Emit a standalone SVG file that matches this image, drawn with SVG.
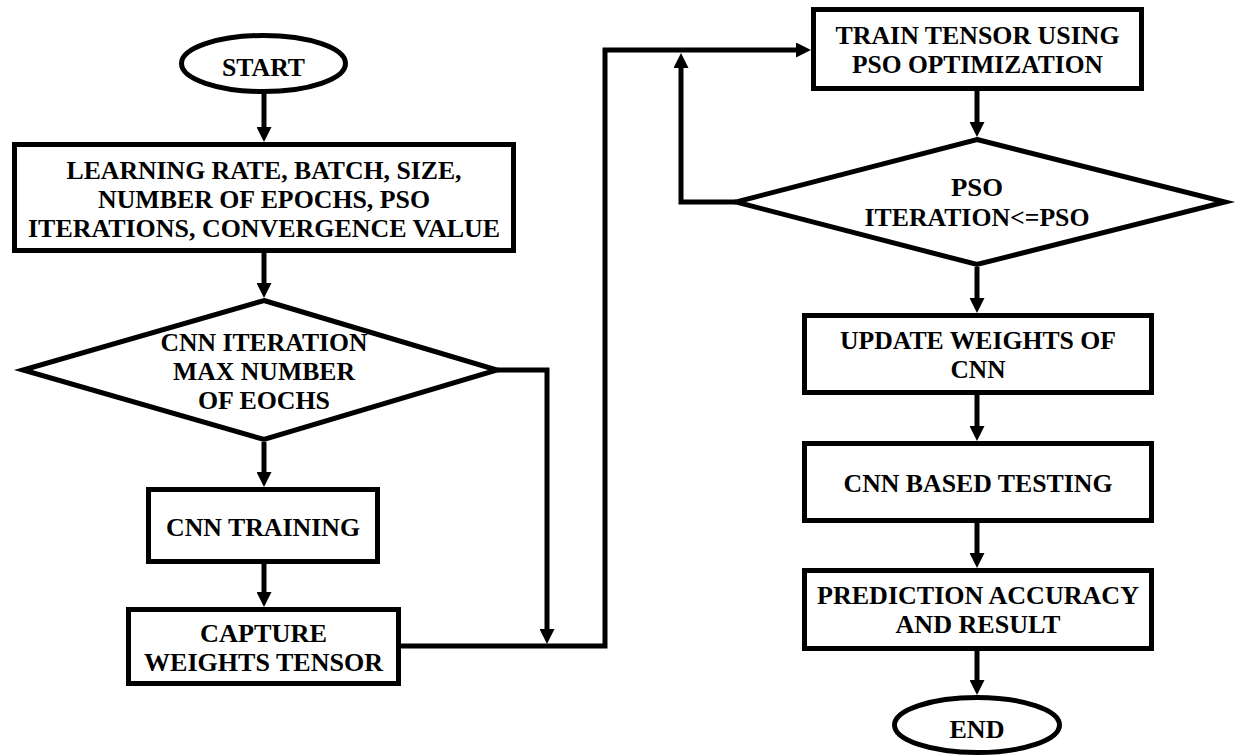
<svg xmlns="http://www.w3.org/2000/svg" width="1236" height="756" viewBox="0 0 1236 756">
<style>
.s{fill:#fff;stroke:#000;stroke-width:5;stroke-linejoin:miter;stroke-miterlimit:10}
.c{fill:none;stroke:#000;stroke-width:5;stroke-linejoin:miter}
.t{font-family:"Liberation Serif","Times New Roman",serif;font-weight:bold;font-size:26px;fill:#000;text-anchor:middle}
</style>
<defs>
<marker id="ah" markerUnits="userSpaceOnUse" markerWidth="15" markerHeight="15" viewBox="0 0 15 15" refX="5" refY="7.5" orient="auto">
<path d="M0,0 L15,7.5 L0,15 z" fill="#000"/>
</marker>
</defs>
<rect width="1236" height="756" fill="#fff"/>
<g id="connectors">
<path class="c" d="M264,94 V132" marker-end="url(#ah)"/>
<path class="c" d="M264,253 V288" marker-end="url(#ah)"/>
<path class="c" d="M264,442 V477" marker-end="url(#ah)"/>
<path class="c" d="M264,564 V597" marker-end="url(#ah)"/>
<path class="c" d="M497,370 H547 V634" marker-end="url(#ah)"/>
<path class="c" d="M401,646 H605 V50 H801" marker-end="url(#ah)"/>
<path class="c" d="M736,202 H681 V63" marker-end="url(#ah)"/>
<path class="c" d="M977,91 V127" marker-end="url(#ah)"/>
<path class="c" d="M977,267 V303" marker-end="url(#ah)"/>
<path class="c" d="M977,395 V431" marker-end="url(#ah)"/>
<path class="c" d="M977,523 V558" marker-end="url(#ah)"/>
<path class="c" d="M977,651 V685" marker-end="url(#ah)"/>
</g>
<g id="start">
<ellipse class="s" cx="263.5" cy="63.5" rx="82" ry="28"/>
<text class="t" x="263.5" y="76" textLength="83" lengthAdjust="spacingAndGlyphs">START</text>
</g>
<g id="params">
<rect class="s" x="14.5" y="144.5" width="499" height="106"/>
<text class="t" x="264" y="179" textLength="395" lengthAdjust="spacingAndGlyphs">LEARNING RATE, BATCH, SIZE,</text>
<text class="t" x="264" y="208" textLength="332" lengthAdjust="spacingAndGlyphs">NUMBER OF EPOCHS, PSO</text>
<text class="t" x="264" y="237" textLength="472" lengthAdjust="spacingAndGlyphs">ITERATIONS, CONVERGENCE VALUE</text>
</g>
<g id="cnn-decision">
<polygon class="s" points="264,300.5 497,370 264,439.5 23,370"/>
<text class="t" x="264" y="351" textLength="207" lengthAdjust="spacingAndGlyphs">CNN ITERATION</text>
<text class="t" x="264" y="380" textLength="182" lengthAdjust="spacingAndGlyphs">MAX NUMBER</text>
<text class="t" x="264" y="409" textLength="132" lengthAdjust="spacingAndGlyphs">OF EOCHS</text>
</g>
<g id="cnn-training">
<rect class="s" x="148.5" y="489.5" width="229" height="72"/>
<text class="t" x="263" y="536" textLength="194" lengthAdjust="spacingAndGlyphs">CNN TRAINING</text>
</g>
<g id="capture">
<rect class="s" x="128.5" y="609.5" width="270" height="74"/>
<text class="t" x="263.5" y="642" textLength="127" lengthAdjust="spacingAndGlyphs">CAPTURE</text>
<text class="t" x="263.5" y="671" textLength="239" lengthAdjust="spacingAndGlyphs">WEIGHTS TENSOR</text>
</g>
<g id="train-pso">
<rect class="s" x="813.5" y="9.5" width="328" height="79"/>
<text class="t" x="977.5" y="44" textLength="284" lengthAdjust="spacingAndGlyphs">TRAIN TENSOR USING</text>
<text class="t" x="977.5" y="73" textLength="251" lengthAdjust="spacingAndGlyphs">PSO OPTIMIZATION</text>
</g>
<g id="pso-decision">
<polygon class="s" points="977,139.5 1225,202 977,264.5 736,202"/>
<text class="t" x="977" y="196" textLength="52" lengthAdjust="spacingAndGlyphs">PSO</text>
<text class="t" x="977" y="226" textLength="225" lengthAdjust="spacingAndGlyphs">ITERATION&lt;=PSO</text>
</g>
<g id="update">
<rect class="s" x="804.5" y="315.5" width="347" height="77"/>
<text class="t" x="978" y="349" textLength="276" lengthAdjust="spacingAndGlyphs">UPDATE WEIGHTS OF</text>
<text class="t" x="978" y="378" textLength="55" lengthAdjust="spacingAndGlyphs">CNN</text>
</g>
<g id="testing">
<rect class="s" x="804.5" y="443.5" width="347" height="77"/>
<text class="t" x="978" y="492" textLength="269" lengthAdjust="spacingAndGlyphs">CNN BASED TESTING</text>
</g>
<g id="prediction">
<rect class="s" x="804.5" y="570.5" width="347" height="78"/>
<text class="t" x="978" y="604" textLength="322" lengthAdjust="spacingAndGlyphs">PREDICTION ACCURACY</text>
<text class="t" x="978" y="633" textLength="165" lengthAdjust="spacingAndGlyphs">AND RESULT</text>
</g>
<g id="end">
<ellipse class="s" cx="977" cy="725" rx="82.5" ry="27.5"/>
<text class="t" x="977" y="738" textLength="55" lengthAdjust="spacingAndGlyphs">END</text>
</g>
</svg>
